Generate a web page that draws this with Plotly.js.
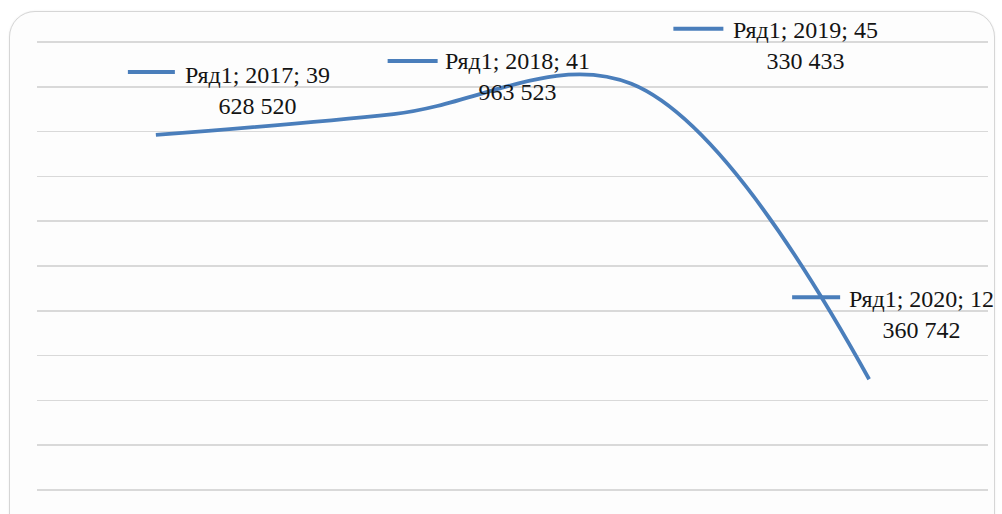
<!DOCTYPE html>
<html><head><meta charset="utf-8">
<script src="https://cdn.plot.ly/plotly-3.0.1.min.js"></script>
<style>
html,body{margin:0;padding:0;background:#fff;width:1002px;height:514px;overflow:hidden;}
#frame{position:absolute;left:9px;top:11px;width:984px;height:540px;border:1.5px solid #d6d6d6;border-radius:26px;background:#fdfdfd;box-shadow:0 0 2px rgba(0,0,0,0.08);}
#chart{position:absolute;left:0;top:0;width:1002px;height:514px;}
</style></head>
<body>
<div id="frame"></div>
<div id="chart"></div>
<script>
const seriesName = "Ряд1";
const categories = ["2017", "2018", "2019", "2020"];
const values = [39628520, 41963523, 45330433, 12360742];
const yTicks = [0, 5e6, 10e6, 15e6, 20e6, 25e6, 30e6, 35e6, 40e6, 45e6, 50e6];

const blue = "#4a7ebb";
// label placement (pixel offsets from each point)
const labelShift = [[102, 44], [124, 38], [174, 38], [52, 65]];
const keyShift = [[-28, 19, 63], [-6, 44, 53], [42, 92, 55], [-77, -29, 82]];

function fmt(v) {
  return String(v).replace(/\B(?=(\d{3})+(?!\d))/g, " ");
}

const annotations = categories.map((c, i) => {
  const s = fmt(values[i]);
  const k = s.indexOf(" ");
  const text = seriesName + "; " + c + "; " + s.slice(0, k) + "<br>" + s.slice(k + 1);
  return {
    x: i, y: values[i], xref: "x", yref: "y", text: text, showarrow: false,
    xshift: labelShift[i][0], yshift: labelShift[i][1],
    xanchor: "center", yanchor: "middle", align: "center",
    font: {family: "Liberation Serif, Times New Roman, serif", size: 24, color: "#141414"}
  };
});

const shapes = categories.map((c, i) => ({
  type: "line", xref: "x", yref: "y",
  xsizemode: "pixel", ysizemode: "pixel",
  xanchor: i, yanchor: values[i],
  x0: keyShift[i][0], x1: keyShift[i][1], y0: keyShift[i][2], y1: keyShift[i][2],
  line: {color: blue, width: 4}
}));

const trace = {
  x: categories.map((c, i) => i), y: values, type: "scatter", mode: "lines",
  line: {color: blue, width: 3.8, shape: "spline", smoothing: 1.05},
  hoverinfo: "skip"
};

const layout = {
  width: 1002, height: 514,
  margin: {l: 37, r: 14, t: 0, b: 0},
  paper_bgcolor: "rgba(0,0,0,0)", plot_bgcolor: "rgba(0,0,0,0)",
  showlegend: false,
  xaxis: {range: [-0.5, 3.5], showgrid: false, zeroline: false, showticklabels: false, showline: false, ticks: ""},
  yaxis: {range: [-2.68e6, 54.69e6], tickvals: yTicks, showgrid: true, gridcolor: "#d9d9d9", gridwidth: 1.5,
          zeroline: false, showticklabels: false, showline: false, ticks: ""},
  annotations: annotations,
  shapes: shapes
};

Plotly.newPlot("chart", [trace], layout, {displayModeBar: false, staticPlot: true});
</script>
</body></html>
